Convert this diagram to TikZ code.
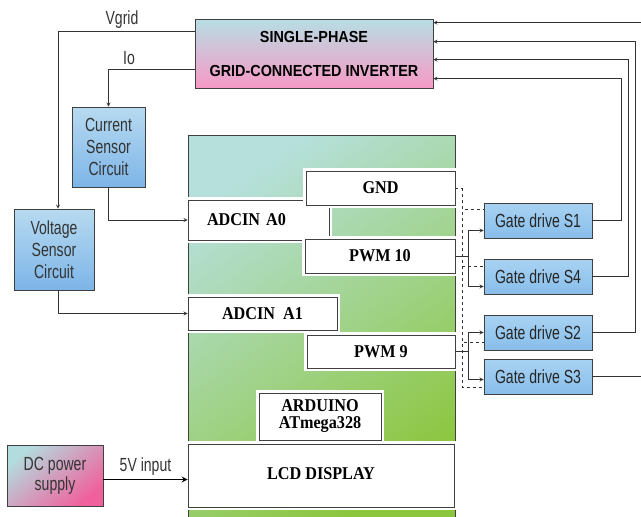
\documentclass[tikz,border=0pt]{standalone}
\usepackage{fontspec}
\usepackage{tikz}
\usetikzlibrary{positioning}
\usetikzlibrary{arrows}
\tikzset{>=stealth}
\newfontfamily\lblfont[FakeStretch=0.74]{Liberation Sans}
\newfontfamily\invfont[FakeStretch=0.9]{Liberation Sans}
\newfontfamily\pinfont[FakeStretch=0.9]{Liberation Serif}
\definecolor{edge}{HTML}{404040}
\definecolor{invA}{HTML}{B7DEE3}
\definecolor{invM}{HTML}{E2B4CF}
\definecolor{invB}{HTML}{F799C6}
\definecolor{sensA}{HTML}{B7DAF0}
\definecolor{sensB}{HTML}{7DB5E8}
\definecolor{gateA}{HTML}{A8D2F2}
\definecolor{gateB}{HTML}{88BEEA}
\definecolor{dcA}{HTML}{B3DCDF}
\definecolor{dcB}{HTML}{F0609C}
\definecolor{mcuA}{HTML}{B6E0DC}
\definecolor{mcuB}{HTML}{8CC63E}
\tikzset{
  box/.style={draw=edge, line width=0.8pt, inner sep=0pt, align=center},
  pinbox/.style={box, fill=white, preaction={draw=white, line width=6pt},
    font=\pinfont\bfseries\fontsize{18pt}{17pt}\selectfont},
  sensbox/.style={box, top color=sensA, bottom color=sensB,
    font=\lblfont\fontsize{19pt}{22pt}\selectfont, text=black!80},
  gatebox/.style={box, top color=gateA, bottom color=gateB,
    minimum width=108pt, minimum height=35pt,
    font=\lblfont\fontsize{19pt}{22pt}\selectfont, text=black!85},
  lbl/.style={font=\lblfont\fontsize{19pt}{22pt}\selectfont, text=black!80, inner sep=0pt},
  conn/.style={draw=black!80, line width=0.8pt},
  gndline/.style={conn, dashed},
  pwr/.style={draw=black, line width=1.6pt},
}
\begin{document}
\begin{tikzpicture}[x=1pt, y=-1pt]
\useasboundingbox (0,0) rectangle (641,517);
% microcontroller board
\node[box, top color=mcuA, bottom color=mcuB, shading angle=35,
  minimum width=267pt, minimum height=385pt, anchor=north west] (mcu) at (188,135) {};
% inverter and sensors
\node[box, top color=invA, middle color=invM, bottom color=invB,
  minimum width=238pt, minimum height=69pt,
  font=\invfont\bfseries\fontsize{16pt}{34pt}\selectfont] (inv) at (314,53.5)
  {SINGLE-PHASE\\GRID-CONNECTED INVERTER};
\node[sensbox, minimum width=73pt, minimum height=80pt] (cs) at (108.5,147) {Current\\Sensor\\Circuit};
\node[sensbox, minimum width=80pt, minimum height=81pt] (vs) at (54,249.5) {Voltage\\Sensor\\Circuit};
% pins
\node[pinbox, align=left, inner xsep=19pt, text width=103pt, minimum height=40pt] (a0) at (258.5,220) {ADCIN A0};
\node[pinbox, minimum width=149pt, minimum height=34pt] (gnd) at (380.5,188) {GND};
\node[pinbox, minimum width=150pt, minimum height=34pt] (p10) at (380,256) {PWM 10};
\node[pinbox, minimum width=149pt, minimum height=33pt] (a1) at (262.5,313.5) {ADCIN\ \ A1};
\node[pinbox, minimum width=148pt, minimum height=33pt] (p9) at (381,351.5) {PWM 9};
\node[pinbox, minimum width=122pt, minimum height=47pt] (ardu) at (320,416.5) {ARDUINO\\ATmega328};
\node[pinbox, minimum width=266pt, minimum height=63pt] (lcd) at (321,475.5) {\raisebox{4pt}{LCD DISPLAY}};
\node[box, top color=dcA, bottom color=dcB, shading angle=40,
  minimum width=96pt, minimum height=61pt,
  font=\lblfont\fontsize{19pt}{20pt}\selectfont, text=black!80] (dc) at (55,475.5) {DC power\\supply};
% gate drives
\node[gatebox] (gS1) at (538,220.5) {Gate drive S1};
\node[gatebox] (gS4) at (538,276.5) {Gate drive S4};
\node[gatebox] (gS2) at (538,332.5) {Gate drive S2};
\node[gatebox] (gS3) at (538,376.5) {Gate drive S3};
% labels
\node[lbl] (vgridlbl) at (122,20) {Vgrid};
\node[lbl] (iolbl) at (129,58) {Io};
% helper coordinates
\coordinate (j10) at (468,256);
\coordinate (j9) at (468,351.5);
\coordinate (gd) at (462,0);
\coordinate (r1) at (621,0);
\coordinate (r2) at (628,0);
\coordinate (r3) at (635,0);
\coordinate (r4) at (643,0);
% sensing
\draw[conn,->] ([yshift=-13pt]inv.north west) -| ([xshift=4pt]vs.north);
\draw[conn,->] ([yshift=-51pt]inv.north west) -| (cs.north);
\draw[conn,->] (cs.south) |- (a0.west);
\draw[conn,->] ([xshift=4pt]vs.south) |- (a1.west);
% pwm to gate drives
\draw[conn] (p10.east) -- (j10);
\draw[conn,->] (j10) |- ([yshift=-10pt]gS1.west);
\draw[conn,->] (j10) |- ([yshift=-10pt]gS4.west);
\draw[conn] (p9.east) -- (j9);
\draw[conn,->] (j9) |- (gS2.west);
\draw[conn,->] (j9) |- ([yshift=-3pt]gS3.west);
% ground
\draw[gndline] (gnd.east) -- (gnd.east -| gd);
\draw[gndline] (gnd.east -| gd) |- ([yshift=11pt]gS1.west);
\draw[gndline] (gnd.east -| gd) |- ([yshift=10pt]gS4.west);
\draw[gndline] (gnd.east -| gd) |- ([yshift=-10pt]gS2.west);
\draw[gndline] (gnd.east -| gd) |- ([yshift=-11pt]gS3.west);
% gate drives to inverter
\draw[conn,->] (gS1.east) -- (gS1.east -| r1) |- ([yshift=-60pt]inv.north east);
\draw[conn,->] (gS4.east) -- (gS4.east -| r2) |- ([yshift=-41pt]inv.north east);
\draw[conn,->] (gS2.east) -- (gS2.east -| r3) |- ([yshift=-23pt]inv.north east);
\draw[conn,->] (gS3.east) -- (gS3.east -| r4) |- ([yshift=-4pt]inv.north east);
% supply
\draw[pwr,->] ([yshift=-4pt]dc.east) -- node[lbl, above=3pt] (vinlbl) {5V input} ([yshift=-4pt]lcd.west);
\end{tikzpicture}
\end{document}
